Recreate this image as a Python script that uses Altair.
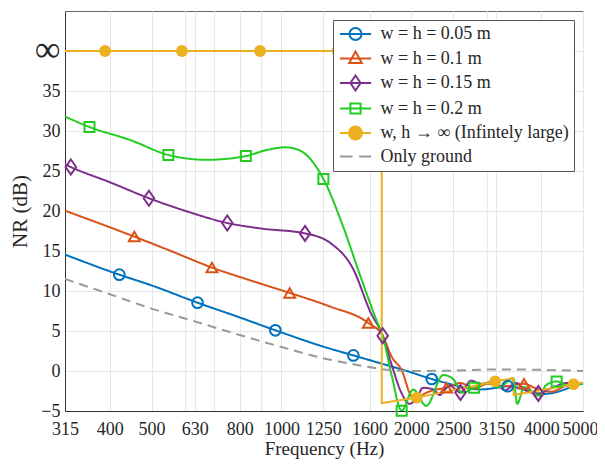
import altair as alt
import pandas as pd

# ---------------- data ----------------
x_ticks = [315, 400, 500, 630, 800, 1000, 1250, 1600, 2000, 2500, 3150, 4000, 5000]
x_minor = [600, 700, 900, 3000]
y_ticks = [-5, 0, 5, 10, 15, 20, 25, 30, 35, 40]

labels = ["w = h = 0.05 m", "w = h = 0.1 m", "w = h = 0.15 m", "w = h = 0.2 m",
          "w, h \u2192 \u221e (Infintely large)", "Only ground"]
keys = ["s05", "s10", "s15", "s20", "inf", "ground"]
colors = ["#0072BD", "#D95319", "#7E2F8E", "#22CC22", "#EDB120", "#999999"]

blue_f = [315, 421, 500, 639, 800, 968, 1250, 1468, 1700, 1953, 2230, 2450, 2666, 2900, 3150, 3346, 3700, 3970, 4300, 4650, 5000]
blue_v = [14.55, 12.04, 10.7, 8.54, 6.7, 5.09, 3.05, 1.95, 0.95, 0.0, -1.0, -1.6, -2.1, -2.3, -2.1, -1.9, -2.4, -2.9, -2.7, -2.1, -1.5]
blue_mf = [421, 639, 968, 1468, 2230, 3346]
blue_mv = [12.04, 8.54, 5.09, 1.95, -1.0, -1.9]

orange_f = [315, 456, 560, 690, 850, 1045, 1290, 1590, 1717, 1800, 1900, 2005, 2060, 2150, 2250, 2412, 2600, 2800, 3000, 3300, 3650, 3900, 4200, 4600, 5000]
orange_v = [20.04, 16.8, 14.9, 12.93, 11.3, 9.76, 8.1, 6.0, 4.4, 1.8, 0.1, -3.2, -3.4, -2.8, -2.4, -2.1, -1.5, -2.2, -1.6, -1.9, -1.6, -2.2, -2.6, -1.8, -1.5]
orange_mf = [456, 690, 1045, 1590, 2412, 3650]
orange_mv = [16.8, 12.93, 9.76, 6.0, -2.1, -1.6]

purple_f = [315, 325, 400, 493, 600, 749, 900, 1134, 1298, 1468, 1607, 1717, 1800, 1900, 1980, 2060, 2127, 2250, 2326, 2450, 2600, 2750, 2900, 3100, 3300, 3500, 3700, 3940, 4200, 4600, 5000]
purple_v = [25.85, 25.5, 23.6, 21.6, 20.0, 18.5, 17.8, 17.2, 16.0, 12.7, 7.4, 4.4, 0.8, -2.8, -4.1, -3.4, -2.1, -2.3, -3.0, -1.8, -2.7, -1.2, -1.6, -1.3, -2.4, -1.5, -2.5, -2.8, -2.2, -1.5, -1.6]
purple_mf = [325, 493, 749, 1134, 1717, 2600, 3940]
purple_mv = [25.5, 21.6, 18.5, 17.2, 4.4, -2.7, -2.8]

green_f = [315, 359, 450, 547, 671, 827, 920, 1019, 1100, 1251, 1391, 1523, 1665, 1717, 1800, 1900, 2020, 2165, 2372, 2500, 2622, 2795, 3000, 3200, 3445, 3520, 3650, 3969, 4100, 4344, 4600, 5000]
green_v = [31.8, 30.5, 28.8, 27.0, 26.4, 26.87, 27.6, 27.96, 27.6, 24.0, 18.0, 11.9, 6.2, 4.4, -0.5, -4.96, -2.3, -4.35, -0.5, -1.0, -2.7, -2.1, -1.5, -2.0, -0.9, -4.1, -2.0, -3.1, -1.8, -1.3, -1.8, -1.6]
green_mf = [359, 547, 827, 1251, 1900, 2795, 4344]
green_mv = [30.5, 27.0, 26.87, 24.0, -4.96, -2.1, -1.3]

inf_f = [315, 1708, 1708, 2059, 3128, 3440, 3455, 4751, 5000]
inf_v = [40, 40, -4.0, -3.33, -1.3, -0.9, -3.0, -1.65, -1.45]
inf_mf = [390, 588, 892, 1350, 2059, 3128, 4751]
inf_mv = [40, 40, 40, 40, -3.33, -1.3, -1.65]

ground_f = [315, 400, 500, 630, 800, 1000, 1250, 1468, 1700, 2000, 2500, 3150, 4000, 5000]
ground_v = [11.5, 9.6, 7.8, 6.2, 4.5, 3.0, 1.6, 0.85, 0.25, 0.0, 0.05, 0.2, 0.15, 0.0]

# ---------------- tables ----------------
def long(key, fs, vs):
    return [dict(series=key, f=f, v=v, i=i) for i, (f, v) in enumerate(zip(fs, vs))]

curve_df = pd.DataFrame(long("s05", blue_f, blue_v) + long("s10", orange_f, orange_v)
                        + long("s15", purple_f, purple_v) + long("s20", green_f, green_v)
                        + long("ground", ground_f, ground_v))
inf_df = pd.DataFrame(long("inf", inf_f, inf_v))
minor_df = pd.DataFrame({"f": x_minor})
legend_df = pd.DataFrame({"label": labels, "f": [1000] * 6, "v": [0] * 6})

FONT = "'Liberation Serif', 'Times New Roman', 'DejaVu Serif', serif"
TXT = "#262626"

x_scale = alt.Scale(type="log", domain=[315, 5000], nice=False)
y_scale = alt.Scale(domain=[-5, 45], nice=False)

x_axis = alt.Axis(values=x_ticks, format="d", title="Frequency (Hz)", ticks=False,
                  labelFont=FONT, titleFont=FONT,
                  labelFontSize=18, titleFontSize=19, labelPadding=9, titlePadding=1,
                  labelOffset={"condition": {"test": "datum.value == 5000", "value": -3}, "value": 0},
                  labelOverlap=False, labelFlush=False, labelBound=False)
y_axis = alt.Axis(values=y_ticks, title="NR (dB)", ticks=False,
                  labelFont=FONT, titleFont=FONT,
                  labelExpr="datum.value == 40 ? '\u221e' : datum.label",
                  labelFontSize={"condition": {"test": "datum.value == 40", "value": 36}, "value": 18},
                  labelOffset={"condition": {"test": "datum.value == 40", "value": -2}, "value": 0},
                  titleFontSize=21, labelPadding=5, titlePadding=4)

X = alt.X("f:Q", scale=x_scale, axis=x_axis)
Y = alt.Y("v:Q", scale=y_scale, axis=y_axis)

minor_grid = alt.Chart(minor_df).mark_rule(color="#e6e6e6", strokeWidth=1).encode(x=X)

curves = alt.Chart(curve_df).mark_line(strokeWidth=2, interpolate="monotone", clip=True).encode(
    x=X, y=Y,
    color=alt.Color("series:N", scale=alt.Scale(domain=keys, range=colors), legend=None),
    strokeDash=alt.StrokeDash("series:N", scale=alt.Scale(domain=keys, range=[[1, 0]] * 5 + [[9, 6]]), legend=None),
    order="i:Q",
)
inf_line = alt.Chart(inf_df).mark_line(strokeWidth=2, color=colors[4], clip=True).encode(
    x=X, y=Y, order="i:Q")

diamond_path = "M0,-1L0.7,0L0,1L-0.7,0Z"
marker_specs = [
    (blue_mf, blue_mv, colors[0], "circle", 115),
    (orange_mf, orange_mv, colors[1], "triangle-up", 120),
    (purple_mf, purple_mv, colors[2], diamond_path, 225),
    (green_mf, green_mv, colors[3], "square", 100),
]
marker_layers = []
for mf, mv, c, shp, sz in marker_specs:
    d = pd.DataFrame({"f": mf, "v": mv})
    marker_layers.append(alt.Chart(d).mark_point(shape=shp, size=sz, filled=False, strokeWidth=2,
                                                 color=c, opacity=1).encode(x=X, y=Y))
inf_dots = alt.Chart(pd.DataFrame({"f": inf_mf, "v": inf_mv})).mark_point(
    shape="circle", size=140, filled=True, color=colors[4], opacity=1).encode(x=X, y=Y)

L = "M-2.6,0H2.6"
disk = "".join(f"M{r},0A{r},{r},0,1,1,-{r},0A{r},{r},0,1,1,{r},0" for r in (1.1, 0.8, 0.5, 0.2))
legend_paths = [
    L + "M1,0A1,1,0,1,1,-1,0A1,1,0,1,1,1,0Z",
    L + "M0,-1.15L1.05,0.75L-1.05,0.75Z",
    L + "M0,-1.25L0.85,0L0,1.25L-0.85,0Z",
    L + "M-0.85,-0.85H0.85V0.85H-0.85Z",
    L + disk,
    "M-2.6,0H-0.5M0.6,0H2.6",
]
leg = alt.Legend(title=None, orient="top-right", offset=9, labelFont=FONT, labelFontSize=18,
                 labelColor=TXT, labelLimit=0, symbolSize=144, symbolStrokeWidth=2, symbolOffset=8.5,
                 labelOffset=16, rowPadding=3.5, padding=5, fillColor="white", strokeColor="#555",
                 symbolFillColor="transparent")
legend_layer = alt.Chart(legend_df).transform_filter("false").mark_point(
    filled=False, strokeWidth=2, opacity=1).encode(
    x=X, y=Y,
    color=alt.Color("label:N", scale=alt.Scale(domain=labels, range=colors), legend=leg),
    shape=alt.Shape("label:N", scale=alt.Scale(domain=labels, range=legend_paths), legend=leg),
)

chart = alt.layer(minor_grid, curves, inf_line, *marker_layers, inf_dots, legend_layer).resolve_scale(
    color="independent", shape="independent", strokeDash="independent"
).properties(
    width=518, height=400,
    autosize=alt.AutoSizeParams(type="none"),
    padding={"left": 57, "top": 3, "right": 14, "bottom": 51},
).configure_view(stroke="#666", strokeWidth=1).configure_axis(
    domainColor="#333", gridColor="#e6e6e6", labelFont=FONT, titleFont=FONT,
    labelColor=TXT, titleColor=TXT, titleFontWeight="normal",
).configure_text(font=FONT)

chart.save("out.html", embed_options={"renderer": "svg", "actions": False})
